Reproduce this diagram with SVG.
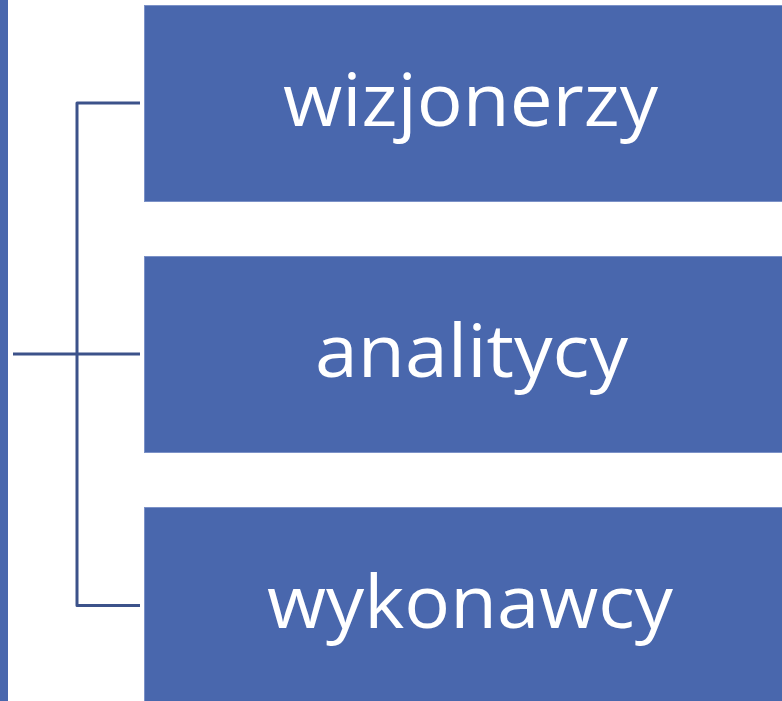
<svg xmlns="http://www.w3.org/2000/svg" width="782" height="701" viewBox="0 0 782 701">
<style>
.box{fill:#4967ad;stroke:#7b91c7;stroke-width:1}
.lbl{font-family:"Open Sans","Noto Sans","DejaVu Sans",sans-serif;font-size:73px;fill:#ffffff;text-anchor:middle}
.conn{fill:none;stroke:#3c528a;stroke-width:3;stroke-linejoin:round;stroke-linecap:butt}
</style>
<rect width="782" height="701" fill="#ffffff"/>
<g id="root"><rect x="-2" y="-2" width="10" height="705" fill="#4967ad"/></g>
<g id="connectors">
<path class="conn" d="M140,103 H77 V605.5 H140"/>
<path class="conn" d="M13,354 H140"/>
</g>
<g id="node-wizjonerzy">
<rect class="box" x="144.5" y="5.5" width="660" height="196"/>
<text class="lbl" x="470.5" y="126" textLength="375" lengthAdjust="spacingAndGlyphs">wizjonerzy</text>
</g>
<g id="node-analitycy">
<rect class="box" x="144.5" y="256.5" width="660" height="196"/>
<text class="lbl" x="471.5" y="377" textLength="313" lengthAdjust="spacingAndGlyphs">analitycy</text>
</g>
<g id="node-wykonawcy">
<rect class="box" x="144.5" y="507.5" width="660" height="196"/>
<text class="lbl" x="470" y="628" textLength="406" lengthAdjust="spacingAndGlyphs">wykonawcy</text>
</g>
</svg>
